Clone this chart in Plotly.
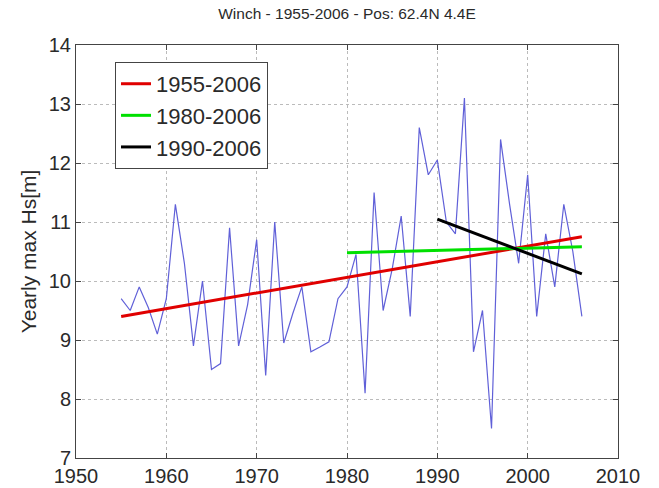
import plotly.graph_objects as go

years = list(range(1955, 2007))
hs_max = [9.7, 9.5, 9.9, 9.55, 9.1, 9.7, 11.3, 10.3, 8.9, 10.0,
          8.5, 8.6, 10.9, 8.9, 9.6, 10.7, 8.4, 11.0, 8.95, 9.45,
          9.9, 8.8, 8.88, 8.97, 9.7, 9.9, 10.45, 8.1, 11.5, 9.5,
          10.2, 11.1, 9.4, 12.6, 11.8, 12.05, 11.0, 10.8, 13.1, 8.8,
          9.5, 7.5, 12.4, 11.3, 10.3, 11.8, 9.4, 10.8, 9.9, 11.3,
          10.5, 9.4]

trend_names = ["1955-2006", "1980-2006", "1990-2006"]
trend_years = [[1955, 2006], [1980, 2006], [1990, 2006]]
trend_values = [[9.4, 10.75], [10.48, 10.58], [11.05, 10.12]]
trend_colors = ["#e00000", "#00e000", "#000000"]

title = "Winch - 1955-2006 - Pos: 62.4N 4.4E"
ylabel = "Yearly max Hs[m]"

FONT = "Liberation Sans, Arial"

fig = go.Figure()
fig.add_trace(go.Scatter(x=years, y=hs_max, mode="lines",
                         line=dict(color="#6060d8", width=1.2),
                         showlegend=False))
for name, xs, ys, col in zip(trend_names, trend_years, trend_values, trend_colors):
    fig.add_trace(go.Scatter(x=xs, y=ys, mode="lines", name=name,
                             line=dict(color=col, width=3)))

axis_common = dict(showline=True, linecolor="#444444", linewidth=1, mirror="ticks",
                   ticks="inside", ticklen=5, tickcolor="#444444",
                   showgrid=True, gridcolor="#bbbbbb", griddash="dot", gridwidth=1,
                   zeroline=False, automargin=False,
                   tickfont=dict(family=FONT, size=20, color="#2a2a2a"))

fig.update_layout(
    width=659, height=488,
    margin=dict(l=76, r=41, t=45, b=30, autoexpand=False),
    paper_bgcolor="white", plot_bgcolor="white",
    title=dict(text=title, x=(76 + 618) / 2 / 659, xanchor="center", y=1 - 14 / 488, yanchor="middle",
               font=dict(family=FONT, size=15.5, color="#2a2a2a")),
    xaxis=dict(range=[1950, 2010], tickvals=[1950, 1960, 1970, 1980, 1990, 2000, 2010], **axis_common),
    yaxis=dict(range=[7, 14], tickvals=[7, 8, 9, 10, 11, 12, 13, 14],
               title=dict(text=ylabel, standoff=6,
                          font=dict(family=FONT, size=21, color="#2a2a2a")),
               **axis_common),
    legend=dict(x=0.072, y=0.959, xanchor="left", yanchor="top",
                bgcolor="white", bordercolor="#444444", borderwidth=1,
                font=dict(family=FONT, size=22, color="#2a2a2a"),
                tracegroupgap=0),
)

fig.write_html("out.html")
